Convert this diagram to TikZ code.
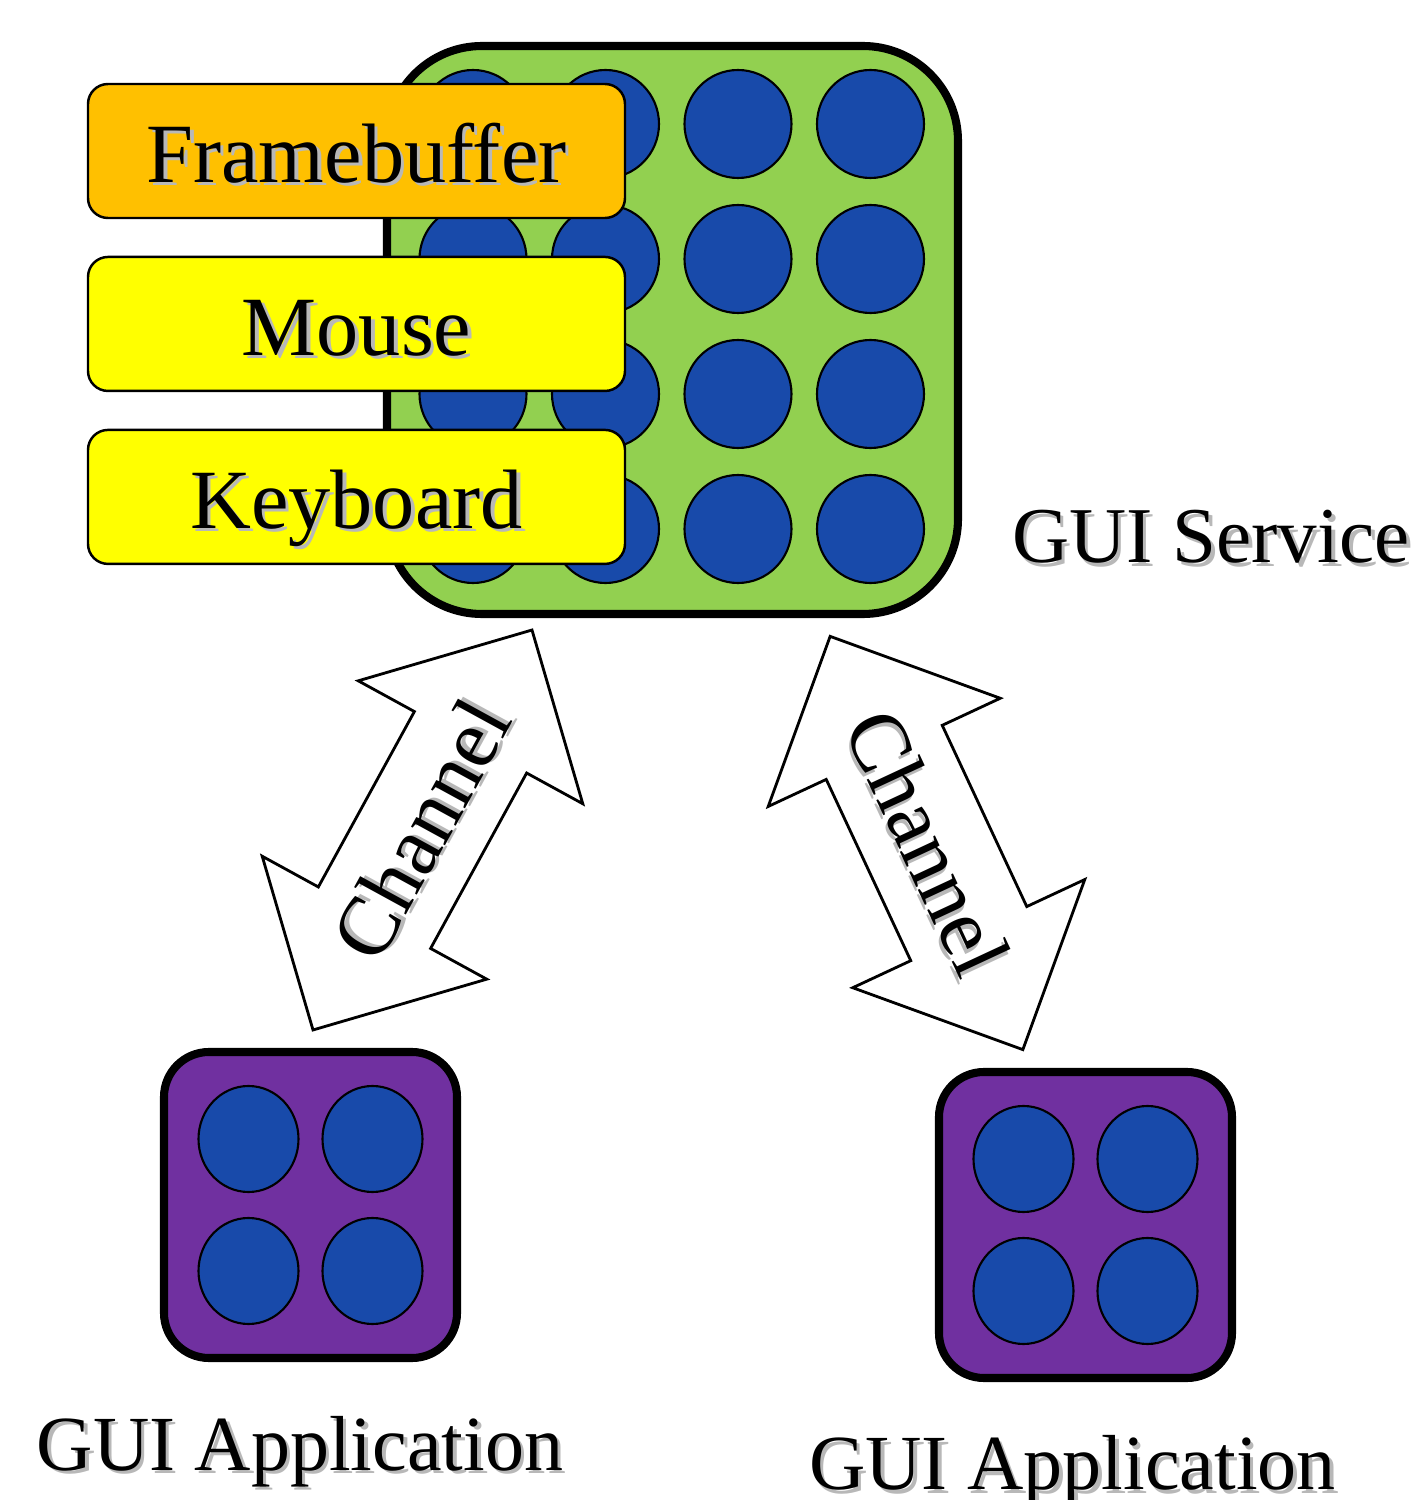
\documentclass[tikz,border=0pt]{standalone}
\usepackage{fontspec}
\setmainfont{Liberation Serif}
\usetikzlibrary{
  calc,            % 坐标计算
  positioning,     % 节点相对定位
  shapes.geometric % 椭圆节点
}

\definecolor{svcgreen}{HTML}{92D050}
\definecolor{dotblue}{HTML}{184AAA}
\definecolor{fborange}{HTML}{FFC000}
\definecolor{devyellow}{HTML}{FFFF00}
\definecolor{apppurple}{HTML}{7030A0}

% 带阴影的文字
\newcommand{\shadowtext}[1]{\makebox[0pt][l]{\hspace{1pt}\raisebox{-1pt}{\textcolor{black!28}{#1}}}#1}

\tikzset{
  service/.style={draw=black, line width=2.3pt, fill=svcgreen, rounded corners=0.95cm,
    minimum width=5.71cm, minimum height=5.68cm, inner sep=0pt},
  app/.style={draw=black, line width=2.3pt, fill=apppurple, rounded corners=0.45cm,
    minimum width=2.93cm, minimum height=3.06cm, inner sep=0pt},
  dotnode/.style={ellipse, draw=black, line width=0.6pt, fill=dotblue, inner sep=0pt,
    minimum width=1.07cm, minimum height=1.08cm},
  appdot/.style={dotnode, minimum width=1.0cm, minimum height=1.06cm},
  devbox/.style={draw=black, line width=0.7pt, rounded corners=0.2cm, minimum width=5.37cm,
    minimum height=1.34cm, inner sep=0pt, text height=22.8pt, text depth=5pt,
    font=\fontsize{24}{28}\selectfont},
  namelabel/.style={anchor=base, inner sep=0pt, font=\fontsize{22.5}{26}\selectfont},
  chanarrow/.style={draw=black, line width=0.8pt, fill=white, line join=miter},
  chantext/.style={inner sep=0pt, font=\fontsize{24}{28}\selectfont}
}

\begin{document}
\begin{tikzpicture}
    \useasboundingbox (0,0) rectangle (14.2,15);
    % 圆点间距
    \def\dx{1.325}
    \def\dy{1.35}

    % --- GUI 服务 ---
    \node[service] (svc) at (6.725,11.70) {};
    \foreach \i in {0,...,3}{
      \foreach \j in {0,...,3}{
        \node[dotnode] (s-\i-\j) at (4.73+\i*\dx, 13.76-\j*\dy) {};
      }
    }
    \node[namelabel] (svclbl) at (12.11,9.37) {\shadowtext{GUI Service}};

    % --- 设备 ---
    \node[devbox, fill=fborange] (fb) at (3.565,13.49) {\shadowtext{Framebuffer}};
    \node[devbox, fill=devyellow, below=0.365cm of fb] (mouse) {\shadowtext{Mouse}};
    \node[devbox, fill=devyellow, below=0.365cm of mouse] (kbd) {\shadowtext{Keyboard}};

    % --- GUI 应用 ---
    \node[app] (appL) at (3.105,2.95) {};
    \node[app] (appR) at (10.855,2.75) {};
    \foreach \a in {appL, appR}{
      \foreach \sx/\sy/\k in {-1/1/1, 1/1/2, -1/-1/3, 1/-1/4}{
        \node[appdot] (\a-\k) at ($(\a.center)+(\sx*0.62,\sy*0.66)$) {};
      }
    }
    \node[namelabel, font=\fontsize{22.2}{26}\selectfont] (appLlbl) at (3.00,0.30) {\shadowtext{GUI Application}};
    \node[namelabel, font=\fontsize{22.2}{26}\selectfont] (appRlbl) at (10.725,0.10) {\shadowtext{GUI Application}};

    % --- 通道双箭头 ---
    \foreach \cx/\cy/\ang [count=\n] in {4.225/6.70/61.3, 9.265/6.57/-65}{
      \begin{scope}[shift={(\cx,\cy)}, rotate=\ang]
        \draw[chanarrow] (-2.28,0) -- (-1,1.28) -- (-1,0.64) -- (1,0.64) -- (1,1.28) -- (2.28,0)
          -- (1,-1.28) -- (1,-0.64) -- (-1,-0.64) -- (-1,-1.28) -- cycle;
        \node[chantext, transform shape] (chan\n) at (0,0) {\shadowtext{Channel}};
      \end{scope}
    }

\end{tikzpicture}
\end{document}
